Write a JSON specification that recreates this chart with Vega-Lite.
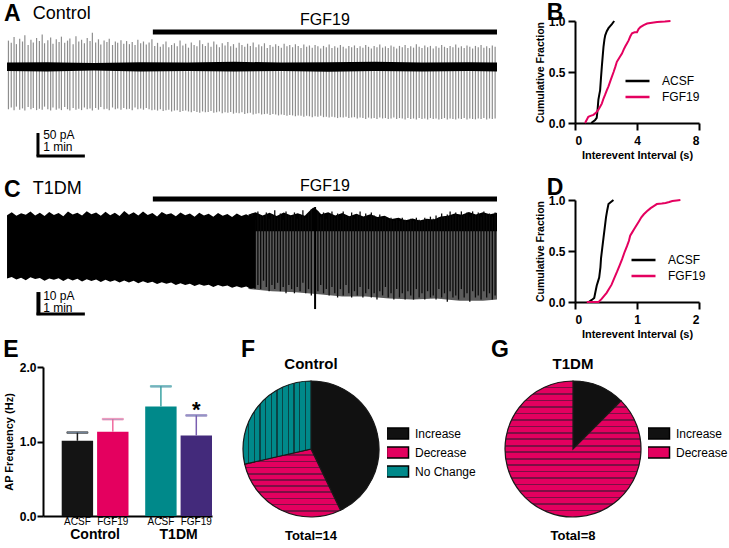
{
"$schema": "https://vega.github.io/schema/vega-lite/v6.json",
"padding": {"top": 2, "left": 0, "right": 0, "bottom": 0},
"background": "white",
"spacing": 0,
"resolve": {"scale": {"color": "independent", "stroke": "independent"}, "legend": {"color": "independent", "stroke": "independent"}},
"config": {
  "view": {"stroke": null},
  "font": "Liberation Sans",
  "title": {"font": "Liberation Sans", "color": "#000"},
  "text": {"font": "Liberation Sans", "color": "#000"},
  "axis": {"domainColor": "#000", "domainWidth": 2, "tickColor": "#000", "tickWidth": 2, "tickSize": 7, "labelFont": "Liberation Sans", "labelFontWeight": "bold", "labelFontSize": 12, "labelColor": "#000", "labelPadding": 3, "labelOverlap": false, "titleFont": "Liberation Sans", "titleFontWeight": "bold", "titleFontSize": 11, "titleColor": "#000", "grid": false},
  "legend": {"labelFont": "Liberation Sans", "labelColor": "#000"}
},
"vconcat": [
{
"spacing": 35,
"resolve": {"scale": {"color": "independent"}, "legend": {"color": "independent"}},
"hconcat": [
{
  "width": 497, "height": 155,
  "layer": [
    {"data": {"values": [
      {"t":0.18,"hi":60,"lo":-96},{"t":0.24,"hi":55,"lo":-92},{"t":0.30,"hi":68,"lo":-98},{"t":0.35,"hi":52,"lo":-90},{"t":0.42,"hi":64,"lo":-97},
      {"t":0.48,"hi":58,"lo":-94},{"t":0.53,"hi":72,"lo":-99},{"t":0.60,"hi":50,"lo":-91},{"t":0.66,"hi":62,"lo":-96},{"t":0.71,"hi":56,"lo":-93},
      {"t":0.78,"hi":66,"lo":-98},{"t":0.84,"hi":59,"lo":-95},{"t":0.90,"hi":74,"lo":-97},{"t":0.95,"hi":54,"lo":-90},{"t":1.02,"hi":61,"lo":-96},
      {"t":1.08,"hi":67,"lo":-99},{"t":1.13,"hi":53,"lo":-92},{"t":1.20,"hi":63,"lo":-97},{"t":1.26,"hi":57,"lo":-94},{"t":1.31,"hi":69,"lo":-98},
      {"t":1.38,"hi":55,"lo":-91},{"t":1.44,"hi":60,"lo":-96},{"t":1.49,"hi":65,"lo":-99},{"t":1.56,"hi":52,"lo":-93},{"t":1.62,"hi":70,"lo":-97},
      {"t":1.68,"hi":58,"lo":-95},{"t":1.74,"hi":62,"lo":-98},{"t":1.80,"hi":54,"lo":-92},{"t":1.86,"hi":66,"lo":-96},{"t":1.92,"hi":59,"lo":-94},
      {"t":1.97,"hi":78,"lo":-99},{"t":2.04,"hi":56,"lo":-93},{"t":2.10,"hi":63,"lo":-97},{"t":2.15,"hi":51,"lo":-91},{"t":2.22,"hi":60,"lo":-96},
      {"t":2.28,"hi":57,"lo":-95},{"t":2.33,"hi":64,"lo":-98},{"t":2.40,"hi":50,"lo":-92},{"t":2.46,"hi":58,"lo":-96},{"t":2.51,"hi":55,"lo":-94},
      {"t":2.58,"hi":61,"lo":-97},{"t":2.64,"hi":53,"lo":-93},{"t":2.70,"hi":59,"lo":-96},{"t":2.76,"hi":52,"lo":-95},{"t":2.82,"hi":57,"lo":-98},
      {"t":2.88,"hi":50,"lo":-92},{"t":2.94,"hi":62,"lo":-96},{"t":3.00,"hi":54,"lo":-94},{"t":3.06,"hi":58,"lo":-97},{"t":3.12,"hi":51,"lo":-93},
      {"t":3.18,"hi":56,"lo":-96},{"t":3.24,"hi":63,"lo":-98},
      {"t":3.30,"hi":48,"lo":-97},{"t":3.36,"hi":55,"lo":-99},{"t":3.42,"hi":46,"lo":-96},{"t":3.48,"hi":52,"lo":-100},{"t":3.54,"hi":58,"lo":-98},
      {"t":3.60,"hi":45,"lo":-97},{"t":3.66,"hi":50,"lo":-101},{"t":3.72,"hi":54,"lo":-99},{"t":3.78,"hi":47,"lo":-98},{"t":3.84,"hi":60,"lo":-102},
      {"t":3.90,"hi":49,"lo":-100},{"t":3.96,"hi":53,"lo":-99},{"t":4.02,"hi":44,"lo":-101},{"t":4.08,"hi":56,"lo":-103},{"t":4.14,"hi":50,"lo":-100},
      {"t":4.20,"hi":47,"lo":-102},{"t":4.26,"hi":61,"lo":-104},{"t":4.32,"hi":52,"lo":-101},{"t":4.38,"hi":48,"lo":-103},{"t":4.44,"hi":55,"lo":-102},
      {"t":4.50,"hi":46,"lo":-100},{"t":4.56,"hi":58,"lo":-104},{"t":4.62,"hi":51,"lo":-103},{"t":4.68,"hi":45,"lo":-101},{"t":4.74,"hi":54,"lo":-105},
      {"t":4.80,"hi":49,"lo":-103},{"t":4.86,"hi":57,"lo":-104},{"t":4.92,"hi":47,"lo":-102},{"t":4.98,"hi":52,"lo":-106},{"t":5.04,"hi":44,"lo":-104},
      {"t":5.10,"hi":55,"lo":-105},{"t":5.16,"hi":50,"lo":-103},{"t":5.22,"hi":46,"lo":-107},{"t":5.28,"hi":53,"lo":-105},{"t":5.34,"hi":48,"lo":-104},
      {"t":5.40,"hi":56,"lo":-108},{"t":5.46,"hi":45,"lo":-106},{"t":5.52,"hi":51,"lo":-105},{"t":5.58,"hi":47,"lo":-108},{"t":5.64,"hi":54,"lo":-107},
      {"t":5.70,"hi":43,"lo":-106},{"t":5.76,"hi":50,"lo":-109},{"t":5.82,"hi":46,"lo":-107},{"t":5.88,"hi":52,"lo":-108},{"t":5.94,"hi":48,"lo":-110},
      {"t":6.00,"hi":44,"lo":-108},{"t":6.06,"hi":53,"lo":-109},{"t":6.12,"hi":47,"lo":-111},{"t":6.18,"hi":50,"lo":-109},{"t":6.24,"hi":45,"lo":-110},
      {"t":6.30,"hi":52,"lo":-112},{"t":6.36,"hi":48,"lo":-110},{"t":6.42,"hi":43,"lo":-111},{"t":6.48,"hi":51,"lo":-113},{"t":6.54,"hi":46,"lo":-111},
      {"t":6.60,"hi":49,"lo":-112},{"t":6.66,"hi":44,"lo":-114},{"t":6.72,"hi":50,"lo":-112},{"t":6.78,"hi":47,"lo":-113},{"t":6.84,"hi":42,"lo":-111},
      {"t":6.90,"hi":48,"lo":-114},{"t":6.96,"hi":45,"lo":-113},{"t":7.02,"hi":51,"lo":-115},{"t":7.08,"hi":43,"lo":-113},{"t":7.14,"hi":47,"lo":-114},
      {"t":7.20,"hi":44,"lo":-116},{"t":7.26,"hi":50,"lo":-114},{"t":7.32,"hi":46,"lo":-115},{"t":7.38,"hi":42,"lo":-113},{"t":7.44,"hi":48,"lo":-116},
      {"t":7.50,"hi":45,"lo":-115},{"t":7.56,"hi":49,"lo":-114},{"t":7.62,"hi":43,"lo":-117},{"t":7.68,"hi":47,"lo":-115},{"t":7.74,"hi":44,"lo":-116},
      {"t":7.80,"hi":50,"lo":-118},{"t":7.86,"hi":46,"lo":-115},{"t":7.92,"hi":42,"lo":-117},{"t":7.98,"hi":48,"lo":-116},{"t":8.04,"hi":45,"lo":-118},
      {"t":8.10,"hi":51,"lo":-115},{"t":8.16,"hi":44,"lo":-117},{"t":8.22,"hi":47,"lo":-116},{"t":8.28,"hi":43,"lo":-118},{"t":8.34,"hi":49,"lo":-117},
      {"t":8.40,"hi":46,"lo":-115},{"t":8.46,"hi":42,"lo":-118},{"t":8.52,"hi":48,"lo":-116},{"t":8.58,"hi":45,"lo":-117},{"t":8.64,"hi":50,"lo":-119},
      {"t":8.70,"hi":43,"lo":-116},{"t":8.76,"hi":47,"lo":-118},{"t":8.82,"hi":44,"lo":-117},{"t":8.88,"hi":52,"lo":-119},{"t":8.94,"hi":46,"lo":-116},
      {"t":9.00,"hi":43,"lo":-118},{"t":9.06,"hi":49,"lo":-117},{"t":9.12,"hi":45,"lo":-119},{"t":9.18,"hi":48,"lo":-116},{"t":9.24,"hi":42,"lo":-118},
      {"t":9.30,"hi":47,"lo":-117},{"t":9.36,"hi":44,"lo":-119},{"t":9.42,"hi":50,"lo":-118},{"t":9.48,"hi":46,"lo":-116},{"t":9.54,"hi":43,"lo":-119},
      {"t":9.60,"hi":48,"lo":-117},{"t":9.66,"hi":45,"lo":-118},{"t":9.72,"hi":51,"lo":-119},{"t":9.78,"hi":44,"lo":-117},{"t":9.84,"hi":47,"lo":-118},
      {"t":9.90,"hi":43,"lo":-116},{"t":9.96,"hi":49,"lo":-119},{"t":10.02,"hi":46,"lo":-117},{"t":10.08,"hi":42,"lo":-118},{"t":10.14,"hi":48,"lo":-119},
      {"t":10.20,"hi":45,"lo":-117},{"t":10.26,"hi":50,"lo":-118},{"t":10.32,"hi":44,"lo":-116},{"t":10.38,"hi":47,"lo":-119},{"t":10.44,"hi":43,"lo":-117},
      {"t":10.50,"hi":49,"lo":-118},{"t":10.56,"hi":46,"lo":-117}
    ]},
     "mark": {"type": "rule", "color": "#8e8e8e", "strokeWidth": 1.2},
     "encoding": {
       "x": {"field": "t", "type": "quantitative", "scale": {"domain": [0, 10.6], "nice": false, "zero": false}, "axis": null},
       "y": {"field": "hi", "type": "quantitative", "scale": {"domain": [-247.7, 104.6], "nice": false, "zero": false}, "axis": null},
       "y2": {"field": "lo"}}},
    {"data": {"values": [
      {"t":0.15,"hi":10,"lo":-9},{"t":1.0,"hi":11,"lo":-10},{"t":2.0,"hi":9,"lo":-8},{"t":3.0,"hi":11,"lo":-10},{"t":4.0,"hi":10,"lo":-9},
      {"t":5.0,"hi":12,"lo":-10},{"t":6.0,"hi":10,"lo":-9},{"t":7.0,"hi":11,"lo":-11},{"t":8.0,"hi":12,"lo":-9},{"t":9.0,"hi":10,"lo":-10},
      {"t":10.0,"hi":11,"lo":-9},{"t":10.6,"hi":10,"lo":-10}]},
     "mark": {"type": "area", "color": "#000"},
     "encoding": {"x": {"field": "t", "type": "quantitative", "axis": null}, "y": {"field": "hi", "type": "quantitative", "axis": null}, "y2": {"field": "lo"}}},
    {"data": {"values": [{}]}, "mark": {"type": "rule", "color": "#000", "strokeWidth": 5},
     "encoding": {"x": {"datum": 3.26, "type": "quantitative", "axis": null}, "x2": {"datum": 10.6}, "y": {"datum": 79.5, "type": "quantitative", "axis": null}}},
    {"data": {"values": [{}]}, "mark": {"type": "rule", "color": "#000", "strokeWidth": 3},
     "encoding": {"x": {"datum": 0.81, "type": "quantitative", "axis": null}, "y": {"datum": -150, "type": "quantitative", "axis": null}, "y2": {"datum": -203}}},
    {"data": {"values": [{}]}, "mark": {"type": "rule", "color": "#000", "strokeWidth": 3},
     "encoding": {"x": {"datum": 0.78, "type": "quantitative", "axis": null}, "x2": {"datum": 1.81}, "y": {"datum": -202, "type": "quantitative", "axis": null}}},
    {"data": {"values": [{}]}, "mark": {"type": "text", "text": "A", "fontSize": 23, "fontWeight": "bold", "baseline": "top", "align": "center"},
     "encoding": {"x": {"datum": 0.26, "type": "quantitative", "axis": null}, "y": {"datum": 145, "type": "quantitative", "axis": null}}},
    {"data": {"values": [{}]}, "mark": {"type": "text", "text": "Control", "fontSize": 18, "baseline": "middle", "align": "left"},
     "encoding": {"x": {"datum": 0.70, "type": "quantitative", "axis": null}, "y": {"datum": 121, "type": "quantitative", "axis": null}}},
    {"data": {"values": [{}]}, "mark": {"type": "text", "text": "FGF19", "fontSize": 16, "baseline": "middle", "align": "center"},
     "encoding": {"x": {"datum": 6.93, "type": "quantitative", "axis": null}, "y": {"datum": 106, "type": "quantitative", "axis": null}}},
    {"data": {"values": [{}]}, "mark": {"type": "text", "text": "50 pA", "fontSize": 12, "baseline": "middle", "align": "left"},
     "encoding": {"x": {"datum": 0.92, "type": "quantitative", "axis": null}, "y": {"datum": -155, "type": "quantitative", "axis": null}}},
    {"data": {"values": [{}]}, "mark": {"type": "text", "text": "1 min", "fontSize": 12, "baseline": "middle", "align": "left"},
     "encoding": {"x": {"datum": 0.92, "type": "quantitative", "axis": null}, "y": {"datum": -182, "type": "quantitative", "axis": null}}}
  ]
},
{
  "width": 124, "height": 102,
  "layer": [
    {"data": {"values": [
      {"s":"ACSF","x":1.05,"y":0},{"s":"ACSF","x":1.3,"y":0.03},{"s":"ACSF","x":1.4,"y":0.05},{"s":"ACSF","x":1.45,"y":0.12},{"s":"ACSF","x":1.51,"y":0.23},
      {"s":"ACSF","x":1.57,"y":0.28},{"s":"ACSF","x":1.62,"y":0.32},{"s":"ACSF","x":1.68,"y":0.45},{"s":"ACSF","x":1.73,"y":0.55},{"s":"ACSF","x":1.79,"y":0.66},
      {"s":"ACSF","x":1.84,"y":0.75},{"s":"ACSF","x":1.9,"y":0.82},{"s":"ACSF","x":1.95,"y":0.86},{"s":"ACSF","x":2.05,"y":0.9},{"s":"ACSF","x":2.16,"y":0.93},
      {"s":"ACSF","x":2.27,"y":0.95},{"s":"ACSF","x":2.38,"y":0.97},{"s":"ACSF","x":2.53,"y":1.0},
      {"s":"FGF19","x":0.65,"y":0},{"s":"FGF19","x":0.86,"y":0.06},{"s":"FGF19","x":1.0,"y":0.07},{"s":"FGF19","x":1.19,"y":0.08},{"s":"FGF19","x":1.35,"y":0.1},
      {"s":"FGF19","x":1.51,"y":0.13},{"s":"FGF19","x":1.62,"y":0.16},{"s":"FGF19","x":1.73,"y":0.19},{"s":"FGF19","x":1.84,"y":0.24},{"s":"FGF19","x":1.95,"y":0.28},
      {"s":"FGF19","x":2.05,"y":0.32},{"s":"FGF19","x":2.16,"y":0.36},{"s":"FGF19","x":2.3,"y":0.42},{"s":"FGF19","x":2.49,"y":0.5},{"s":"FGF19","x":2.6,"y":0.55},
      {"s":"FGF19","x":2.7,"y":0.6},{"s":"FGF19","x":2.86,"y":0.64},{"s":"FGF19","x":3.03,"y":0.68},{"s":"FGF19","x":3.14,"y":0.72},{"s":"FGF19","x":3.24,"y":0.75},
      {"s":"FGF19","x":3.35,"y":0.78},{"s":"FGF19","x":3.46,"y":0.81},{"s":"FGF19","x":3.57,"y":0.85},{"s":"FGF19","x":3.68,"y":0.88},{"s":"FGF19","x":3.84,"y":0.89},
      {"s":"FGF19","x":4.0,"y":0.89},{"s":"FGF19","x":4.1,"y":0.92},{"s":"FGF19","x":4.22,"y":0.94},{"s":"FGF19","x":4.43,"y":0.96},{"s":"FGF19","x":4.65,"y":0.975},
      {"s":"FGF19","x":4.86,"y":0.98},{"s":"FGF19","x":5.3,"y":0.99},{"s":"FGF19","x":5.8,"y":0.995},{"s":"FGF19","x":6.16,"y":1.0}
    ]},
     "mark": {"type": "line", "strokeWidth": 2},
     "encoding": {
       "x": {"field": "x", "type": "quantitative", "scale": {"domain": [0, 8], "nice": false, "zero": false}, "axis": {"values": [0, 2, 4, 6, 8], "title": "Interevent  Interval (s)", "labelPadding": 5, "titlePadding": 3}},
       "y": {"field": "y", "type": "quantitative", "scale": {"domain": [0, 1], "nice": false}, "axis": {"values": [0, 0.5, 1], "format": ".1f", "title": "Cumulative Fraction", "titlePadding": 3, "titleFontSize": 10.5}},
       "color": {"field": "s", "type": "nominal", "scale": {"domain": ["ACSF", "FGF19"], "range": ["#000000", "#e4005f"]},
         "legend": {"orient": "none", "legendX": 49, "legendY": 52, "title": null, "symbolType": "stroke", "symbolStrokeWidth": 2.5, "symbolSize": 576, "labelFontSize": 12, "labelFontWeight": "normal", "labelOffset": 11, "clipHeight": 16, "rowPadding": 0, "padding": 0}}}},
    {"data": {"values": [{}]}, "mark": {"type": "text", "text": "B", "fontSize": 23, "fontWeight": "bold", "baseline": "top", "align": "center"},
     "encoding": {"x": {"datum": -1.29, "type": "quantitative"}, "y": {"datum": 1.186, "type": "quantitative"}}}
  ]
}
]
},
{
"spacing": 35,
"resolve": {"scale": {"color": "independent"}, "legend": {"color": "independent"}},
"hconcat": [
{
  "width": 497, "height": 131,
  "layer": [
    {"data": {"values": [
      {"t":5.3,"hi":-3,"lo":-31},{"t":5.8,"hi":-3,"lo":-32},{"t":6.3,"hi":-3,"lo":-32.5},{"t":6.8,"hi":-3,"lo":-33.5},{"t":7.3,"hi":-3,"lo":-34.5},
      {"t":7.8,"hi":-3,"lo":-34.5},{"t":8.3,"hi":-3,"lo":-35.5},{"t":8.8,"hi":-3,"lo":-36},{"t":9.3,"hi":-3,"lo":-35.5},{"t":9.8,"hi":-3,"lo":-36.5},
      {"t":10.3,"hi":-3,"lo":-36.5},{"t":10.6,"hi":-3,"lo":-36}]},
     "mark": {"type": "area", "color": "#5c5c5c"},
     "encoding": {
       "x": {"field": "t", "type": "quantitative", "scale": {"domain": [0, 10.6], "nice": false, "zero": false}, "axis": null},
       "y": {"field": "hi", "type": "quantitative", "scale": {"domain": [-50.95, 11.43], "nice": false, "zero": false}, "axis": null},
       "y2": {"field": "lo"}}},
    {"data": {"values": [
      {"t":5.30,"hi":4.5,"lo":-3.5},{"t":5.45,"hi":5.6,"lo":-3.5},{"t":5.60,"hi":4.0,"lo":-3.5},{"t":5.75,"hi":5.3,"lo":-3.5},{"t":5.90,"hi":3.8,"lo":-3.5},
      {"t":6.05,"hi":5.5,"lo":-3.5},{"t":6.20,"hi":4.2,"lo":-3.5},{"t":6.35,"hi":5.1,"lo":-3.5},{"t":6.50,"hi":3.9,"lo":-3.5},{"t":6.60,"hi":6.2,"lo":-3.5},
      {"t":6.68,"hi":7.8,"lo":-3.5},{"t":6.76,"hi":6.8,"lo":-3.5},{"t":6.85,"hi":4.6,"lo":-3.5},{"t":7.00,"hi":5.6,"lo":-3.5},{"t":7.15,"hi":4.0,"lo":-3.5},
      {"t":7.30,"hi":5.2,"lo":-3.5},{"t":7.45,"hi":3.7,"lo":-3.5},{"t":7.60,"hi":4.9,"lo":-3.5},{"t":7.75,"hi":3.6,"lo":-3.5},{"t":7.90,"hi":4.6,"lo":-3.5},
      {"t":8.05,"hi":3.3,"lo":-3.5},{"t":8.20,"hi":3.9,"lo":-3.5},{"t":8.35,"hi":2.4,"lo":-3.5},{"t":8.50,"hi":3.0,"lo":-3.5},{"t":8.65,"hi":1.8,"lo":-3.5},
      {"t":8.80,"hi":2.6,"lo":-3.5},{"t":8.95,"hi":1.7,"lo":-3.5},{"t":9.10,"hi":2.5,"lo":-3.5},{"t":9.25,"hi":2.2,"lo":-3.5},{"t":9.40,"hi":3.6,"lo":-3.5},
      {"t":9.55,"hi":3.9,"lo":-3.5},{"t":9.70,"hi":5.0,"lo":-3.5},{"t":9.85,"hi":4.4,"lo":-3.5},{"t":10.00,"hi":5.7,"lo":-3.5},{"t":10.15,"hi":4.5,"lo":-3.5},
      {"t":10.30,"hi":5.6,"lo":-3.5},{"t":10.45,"hi":4.6,"lo":-3.5},{"t":10.60,"hi":5.3,"lo":-3.5}]},
     "mark": {"type": "area", "color": "#000"},
     "encoding": {"x": {"field": "t", "type": "quantitative", "axis": null}, "y": {"field": "hi", "type": "quantitative", "axis": null}, "y2": {"field": "lo"}}},
    {"data": {"values": [
      {"t":5.32,"hi":3,"lo":-30},{"t":5.38,"hi":5,"lo":-28},{"t":5.44,"hi":2,"lo":-31},{"t":5.50,"hi":6,"lo":-29},{"t":5.56,"hi":4,"lo":-31},
      {"t":5.62,"hi":3.5,"lo":-27},{"t":5.68,"hi":5.5,"lo":-30},{"t":5.74,"hi":2.5,"lo":-32},{"t":5.80,"hi":4.5,"lo":-29},{"t":5.86,"hi":6.5,"lo":-31},
      {"t":5.92,"hi":3,"lo":-28},{"t":5.98,"hi":5,"lo":-32},{"t":6.04,"hi":2,"lo":-30},{"t":6.10,"hi":6,"lo":-33},{"t":6.16,"hi":4,"lo":-29},
      {"t":6.22,"hi":3.5,"lo":-31},{"t":6.28,"hi":5.5,"lo":-33},{"t":6.34,"hi":2.5,"lo":-30},{"t":6.40,"hi":4.5,"lo":-32},{"t":6.46,"hi":6.5,"lo":-28},
      {"t":6.52,"hi":3,"lo":-33},{"t":6.58,"hi":5,"lo":-31},{"t":6.64,"hi":7,"lo":-34},{"t":6.78,"hi":6,"lo":-32},{"t":6.84,"hi":3.5,"lo":-29},
      {"t":6.90,"hi":5.5,"lo":-33},{"t":6.96,"hi":2.5,"lo":-31},{"t":7.02,"hi":4.5,"lo":-34},{"t":7.08,"hi":6,"lo":-30},{"t":7.14,"hi":3,"lo":-33},
      {"t":7.20,"hi":5,"lo":-35},{"t":7.26,"hi":2,"lo":-31},{"t":7.32,"hi":6,"lo":-34},{"t":7.38,"hi":4,"lo":-29},{"t":7.44,"hi":3.5,"lo":-33},
      {"t":7.50,"hi":5.5,"lo":-35},{"t":7.56,"hi":2.5,"lo":-32},{"t":7.62,"hi":4.5,"lo":-34},{"t":7.68,"hi":6,"lo":-30},{"t":7.74,"hi":3,"lo":-35},
      {"t":7.80,"hi":5,"lo":-33},{"t":7.86,"hi":2,"lo":-31},{"t":7.92,"hi":5.5,"lo":-35},{"t":7.98,"hi":4,"lo":-33},{"t":8.04,"hi":3,"lo":-36},
      {"t":8.10,"hi":4.5,"lo":-32},{"t":8.16,"hi":2.5,"lo":-34},{"t":8.22,"hi":3.5,"lo":-30},{"t":8.28,"hi":2,"lo":-35},{"t":8.34,"hi":3,"lo":-33},
      {"t":8.40,"hi":1.5,"lo":-36},{"t":8.46,"hi":2.5,"lo":-31},{"t":8.52,"hi":1.5,"lo":-35},{"t":8.58,"hi":3,"lo":-33},{"t":8.64,"hi":2,"lo":-36},
      {"t":8.70,"hi":1,"lo":-32},{"t":8.76,"hi":2.5,"lo":-34},{"t":8.82,"hi":1.5,"lo":-36},{"t":8.88,"hi":3,"lo":-31},{"t":8.94,"hi":2,"lo":-35},
      {"t":9.00,"hi":1.5,"lo":-33},{"t":9.06,"hi":3,"lo":-36},{"t":9.12,"hi":2,"lo":-32},{"t":9.18,"hi":3.5,"lo":-35},{"t":9.24,"hi":2.5,"lo":-34},
      {"t":9.30,"hi":4,"lo":-36},{"t":9.36,"hi":3,"lo":-31},{"t":9.42,"hi":5,"lo":-35},{"t":9.48,"hi":3.5,"lo":-33},{"t":9.54,"hi":4.5,"lo":-37},
      {"t":9.60,"hi":6,"lo":-32},{"t":9.66,"hi":4,"lo":-35},{"t":9.72,"hi":5.5,"lo":-34},{"t":9.78,"hi":3.5,"lo":-36},{"t":9.84,"hi":6,"lo":-31},
      {"t":9.90,"hi":4.5,"lo":-35},{"t":9.96,"hi":5.5,"lo":-33},{"t":10.02,"hi":3.5,"lo":-37},{"t":10.08,"hi":6,"lo":-32},{"t":10.14,"hi":4,"lo":-35},
      {"t":10.20,"hi":5.5,"lo":-34},{"t":10.26,"hi":3.5,"lo":-36},{"t":10.32,"hi":6,"lo":-32},{"t":10.38,"hi":4.5,"lo":-35},{"t":10.44,"hi":5,"lo":-33},
      {"t":10.50,"hi":3.5,"lo":-36},{"t":10.56,"hi":5.5,"lo":-34}]},
     "mark": {"type": "rule", "color": "#0a0a0a", "strokeWidth": 1.3},
     "encoding": {"x": {"field": "t", "type": "quantitative", "axis": null}, "y": {"field": "hi", "type": "quantitative", "axis": null}, "y2": {"field": "lo"}}},
    {"data": {"values": [{"t":6.72,"hi":8.1,"lo":-40.5}]},
     "mark": {"type": "rule", "color": "#000", "strokeWidth": 2},
     "encoding": {"x": {"field": "t", "type": "quantitative", "axis": null}, "y": {"field": "hi", "type": "quantitative", "axis": null}, "y2": {"field": "lo"}}},
    {"data": {"values": [
      {"t":0.15,"hi":4.2,"lo":-26.0},{"t":0.25,"hi":5.6,"lo":-25.2},{"t":0.35,"hi":3.9,"lo":-26.4},{"t":0.45,"hi":5.1,"lo":-25.6},{"t":0.55,"hi":4.4,"lo":-26.8},
      {"t":0.65,"hi":6.0,"lo":-25.4},{"t":0.75,"hi":4.0,"lo":-26.2},{"t":0.85,"hi":5.3,"lo":-25.7},{"t":0.95,"hi":3.8,"lo":-27.0},{"t":1.05,"hi":5.7,"lo":-25.9},
      {"t":1.15,"hi":4.3,"lo":-26.6},{"t":1.25,"hi":5.2,"lo":-25.8},{"t":1.35,"hi":3.7,"lo":-27.1},{"t":1.45,"hi":5.9,"lo":-26.0},{"t":1.55,"hi":4.5,"lo":-26.9},
      {"t":1.65,"hi":5.4,"lo":-26.1},{"t":1.75,"hi":4.1,"lo":-27.4},{"t":1.85,"hi":6.1,"lo":-26.3},{"t":1.95,"hi":4.6,"lo":-27.2},{"t":2.05,"hi":5.5,"lo":-26.4},
      {"t":2.15,"hi":3.9,"lo":-27.6},{"t":2.25,"hi":5.8,"lo":-26.6},{"t":2.35,"hi":4.2,"lo":-27.5},{"t":2.45,"hi":5.3,"lo":-26.8},{"t":2.55,"hi":3.8,"lo":-27.9},
      {"t":2.65,"hi":6.2,"lo":-26.9},{"t":2.75,"hi":4.4,"lo":-27.8},{"t":2.85,"hi":5.6,"lo":-27.0},{"t":2.95,"hi":4.0,"lo":-28.2},{"t":3.05,"hi":5.9,"lo":-27.3},
      {"t":3.15,"hi":4.3,"lo":-28.1},{"t":3.25,"hi":5.2,"lo":-27.5},{"t":3.35,"hi":3.6,"lo":-28.6},{"t":3.45,"hi":5.7,"lo":-27.7},{"t":3.55,"hi":4.5,"lo":-28.5},
      {"t":3.65,"hi":5.1,"lo":-27.9},{"t":3.75,"hi":3.7,"lo":-29.0},{"t":3.85,"hi":5.5,"lo":-28.2},{"t":3.95,"hi":4.2,"lo":-29.1},{"t":4.05,"hi":5.0,"lo":-28.4},
      {"t":4.15,"hi":3.5,"lo":-29.5},{"t":4.25,"hi":5.4,"lo":-28.7},{"t":4.35,"hi":4.1,"lo":-29.4},{"t":4.45,"hi":4.9,"lo":-28.9},{"t":4.55,"hi":3.4,"lo":-30.0},
      {"t":4.65,"hi":5.2,"lo":-29.1},{"t":4.75,"hi":3.9,"lo":-29.8},{"t":4.85,"hi":4.8,"lo":-29.3},{"t":4.95,"hi":3.3,"lo":-30.4},{"t":5.05,"hi":5.0,"lo":-29.6},
      {"t":5.15,"hi":3.8,"lo":-30.3},{"t":5.25,"hi":4.6,"lo":-29.8},{"t":5.35,"hi":3.5,"lo":-30.8},{"t":5.45,"hi":4.2,"lo":-30.4}]},
     "mark": {"type": "area", "color": "#000"},
     "encoding": {"x": {"field": "t", "type": "quantitative", "axis": null}, "y": {"field": "hi", "type": "quantitative", "axis": null}, "y2": {"field": "lo"}}},
    {"data": {"values": [{}]}, "mark": {"type": "rule", "color": "#000", "strokeWidth": 5},
     "encoding": {"x": {"datum": 3.26, "type": "quantitative", "axis": null}, "x2": {"datum": 10.6}, "y": {"datum": 11.9, "type": "quantitative", "axis": null}}},
    {"data": {"values": [{}]}, "mark": {"type": "rule", "color": "#000", "strokeWidth": 4},
     "encoding": {"x": {"datum": 0.82, "type": "quantitative", "axis": null}, "y": {"datum": -32.4, "type": "quantitative", "axis": null}, "y2": {"datum": -43.4}}},
    {"data": {"values": [{}]}, "mark": {"type": "rule", "color": "#000", "strokeWidth": 3},
     "encoding": {"x": {"datum": 0.78, "type": "quantitative", "axis": null}, "x2": {"datum": 1.81}, "y": {"datum": -42.9, "type": "quantitative", "axis": null}}},
    {"data": {"values": [{}]}, "mark": {"type": "text", "text": "C", "fontSize": 23, "fontWeight": "bold", "baseline": "top", "align": "center"},
     "encoding": {"x": {"datum": 0.26, "type": "quantitative", "axis": null}, "y": {"datum": 21.4, "type": "quantitative", "axis": null}}},
    {"data": {"values": [{}]}, "mark": {"type": "text", "text": "T1DM", "fontSize": 18, "baseline": "middle", "align": "left"},
     "encoding": {"x": {"datum": 0.70, "type": "quantitative", "axis": null}, "y": {"datum": 16.7, "type": "quantitative", "axis": null}}},
    {"data": {"values": [{}]}, "mark": {"type": "text", "text": "FGF19", "fontSize": 16, "baseline": "middle", "align": "center"},
     "encoding": {"x": {"datum": 6.93, "type": "quantitative", "axis": null}, "y": {"datum": 18.1, "type": "quantitative", "axis": null}}},
    {"data": {"values": [{}]}, "mark": {"type": "text", "text": "10 pA", "fontSize": 12, "baseline": "middle", "align": "left"},
     "encoding": {"x": {"datum": 0.92, "type": "quantitative", "axis": null}, "y": {"datum": -34.3, "type": "quantitative", "axis": null}}},
    {"data": {"values": [{}]}, "mark": {"type": "text", "text": "1 min", "fontSize": 12, "baseline": "middle", "align": "left"},
     "encoding": {"x": {"datum": 0.92, "type": "quantitative", "axis": null}, "y": {"datum": -39.8, "type": "quantitative", "axis": null}}}
  ]
},
{
  "width": 124, "height": 102,
  "layer": [
    {"data": {"values": [
      {"s":"ACSF","x":0.22,"y":0},{"s":"ACSF","x":0.27,"y":0.02},{"s":"ACSF","x":0.31,"y":0.04},{"s":"ACSF","x":0.33,"y":0.1},{"s":"ACSF","x":0.35,"y":0.16},
      {"s":"ACSF","x":0.37,"y":0.2},{"s":"ACSF","x":0.39,"y":0.24},{"s":"ACSF","x":0.41,"y":0.34},{"s":"ACSF","x":0.42,"y":0.43},{"s":"ACSF","x":0.44,"y":0.53},
      {"s":"ACSF","x":0.46,"y":0.63},{"s":"ACSF","x":0.48,"y":0.73},{"s":"ACSF","x":0.5,"y":0.83},{"s":"ACSF","x":0.52,"y":0.9},{"s":"ACSF","x":0.54,"y":0.96},
      {"s":"ACSF","x":0.58,"y":0.98},{"s":"ACSF","x":0.62,"y":1.0},
      {"s":"FGF19","x":0.19,"y":0},{"s":"FGF19","x":0.38,"y":0},{"s":"FGF19","x":0.43,"y":0.03},{"s":"FGF19","x":0.47,"y":0.06},{"s":"FGF19","x":0.51,"y":0.09},
      {"s":"FGF19","x":0.55,"y":0.13},{"s":"FGF19","x":0.59,"y":0.17},{"s":"FGF19","x":0.63,"y":0.23},{"s":"FGF19","x":0.68,"y":0.3},{"s":"FGF19","x":0.72,"y":0.36},
      {"s":"FGF19","x":0.76,"y":0.42},{"s":"FGF19","x":0.8,"y":0.49},{"s":"FGF19","x":0.84,"y":0.55},{"s":"FGF19","x":0.87,"y":0.6},{"s":"FGF19","x":0.89,"y":0.65},
      {"s":"FGF19","x":0.92,"y":0.68},{"s":"FGF19","x":0.95,"y":0.71},{"s":"FGF19","x":0.99,"y":0.75},{"s":"FGF19","x":1.03,"y":0.79},{"s":"FGF19","x":1.07,"y":0.83},
      {"s":"FGF19","x":1.11,"y":0.86},{"s":"FGF19","x":1.16,"y":0.89},{"s":"FGF19","x":1.22,"y":0.92},{"s":"FGF19","x":1.27,"y":0.94},{"s":"FGF19","x":1.32,"y":0.96},
      {"s":"FGF19","x":1.4,"y":0.965},{"s":"FGF19","x":1.46,"y":0.97},{"s":"FGF19","x":1.52,"y":0.98},{"s":"FGF19","x":1.57,"y":0.99},{"s":"FGF19","x":1.64,"y":0.995},
      {"s":"FGF19","x":1.7,"y":1.0}
    ]},
     "mark": {"type": "line", "strokeWidth": 2},
     "encoding": {
       "x": {"field": "x", "type": "quantitative", "scale": {"domain": [0, 2], "nice": false, "zero": false}, "axis": {"values": [0, 0.5, 1, 1.5, 2], "format": "~g", "title": "Interevent  Interval (s)", "labelPadding": 5, "titlePadding": 3}},
       "y": {"field": "y", "type": "quantitative", "scale": {"domain": [0, 1], "nice": false}, "axis": {"values": [0, 0.5, 1], "format": ".1f", "title": "Cumulative Fraction", "titlePadding": 3, "titleFontSize": 10.5}},
       "color": {"field": "s", "type": "nominal", "scale": {"domain": ["ACSF", "FGF19"], "range": ["#000000", "#e4005f"]},
         "legend": {"orient": "none", "legendX": 55, "legendY": 52, "title": null, "symbolType": "stroke", "symbolStrokeWidth": 2.5, "symbolSize": 576, "labelFontSize": 12, "labelFontWeight": "normal", "labelOffset": 11, "clipHeight": 16, "rowPadding": 0, "padding": 0}}}},
    {"data": {"values": [{}]}, "mark": {"type": "text", "text": "D", "fontSize": 23, "fontWeight": "bold", "baseline": "top", "align": "center"},
     "encoding": {"x": {"datum": -0.32, "type": "quantitative"}, "y": {"datum": 1.2255, "type": "quantitative"}}}
  ]
}
]
},
{
"spacing": 0,
"resolve": {"scale": {"color": "independent", "stroke": "independent"}, "legend": {"color": "independent"}},
"hconcat": [
{
  "width": 3, "height": 5,
  "data": {"values": [{}]},
  "mark": {"type": "point", "opacity": 0, "size": 1},
  "encoding": {}
},
{
  "width": 169, "height": 149,
  "title": {"text": "E", "anchor": "start", "frame": "bounds", "fontSize": 23, "fontWeight": "bold", "baseline": "alphabetic", "offset": -19},
  "data": {"values": [
    {"group": "Control", "treat": "ACSF", "id": "c1", "v": 1.01, "top": 1.12, "sig": ""},
    {"group": "Control", "treat": "FGF19", "id": "c2", "v": 1.13, "top": 1.30, "sig": ""},
    {"group": "T1DM", "treat": "ACSF", "id": "t1", "v": 1.47, "top": 1.74, "sig": ""},
    {"group": "T1DM", "treat": "FGF19", "id": "t2", "v": 1.08, "top": 1.35, "sig": "*"}
  ]},
  "encoding": {
    "x": {"field": "group", "type": "nominal", "sort": null, "scale": {"paddingInner": 0.2, "paddingOuter": 0.112, "align": 1},
      "axis": {"title": null, "ticks": false, "tickSize": 0, "labelPadding": 11, "labelFontSize": 14, "labelAngle": 0}},
    "xOffset": {"field": "treat", "type": "nominal", "sort": null, "scale": {"paddingInner": 0.113, "paddingOuter": 0}}
  },
  "layer": [
    {"mark": {"type": "bar"},
     "encoding": {
       "y": {"field": "v", "type": "quantitative", "scale": {"domain": [0, 2], "nice": false}, "axis": {"values": [0, 0.5, 1, 1.5, 2], "format": ".1f", "title": "AP Frequency (Hz)", "tickSize": 6, "labelPadding": 1, "titlePadding": 5}},
       "color": {"field": "id", "type": "nominal", "scale": {"domain": ["c1", "c2", "t1", "t2"], "range": ["#141414", "#e4005f", "#00898a", "#432a7b"]}, "legend": null}}},
    {"mark": {"type": "rule", "strokeWidth": 1.5},
     "encoding": {
       "y": {"field": "v", "type": "quantitative"}, "y2": {"field": "top"},
       "stroke": {"field": "id", "type": "nominal", "scale": {"domain": ["c1", "c2", "t1", "t2"], "range": ["#1a1a1a", "#f06a9e", "#3aa3a3", "#7a5eb0"]}, "legend": null}}},
    {"mark": {"type": "tick", "size": 21, "thickness": 1.5},
     "encoding": {
       "y": {"field": "top", "type": "quantitative"},
       "stroke": {"field": "id", "type": "nominal", "legend": null}}},
    {"mark": {"type": "rule", "strokeWidth": 2, "color": "#000"},
     "encoding": {"y": {"datum": 0, "type": "quantitative"}, "y2": {"datum": -0.04}}},
    {"mark": {"type": "text", "fontSize": 10, "baseline": "middle", "dy": 6},
     "encoding": {"y": {"datum": 0, "type": "quantitative"}, "text": {"field": "treat"}}},
    {"mark": {"type": "text", "fontSize": 22, "fontWeight": "bold", "baseline": "alphabetic", "dy": 2},
     "encoding": {"y": {"field": "top", "type": "quantitative"}, "text": {"field": "sig"}}}
  ]
},
{
  "width": 198, "height": 164,
  "title": {"text": "F", "anchor": "start", "frame": "group", "fontSize": 23, "fontWeight": "bold", "baseline": "alphabetic", "offset": -23, "dx": 29},
  "layer": [
    {"data": {"values": [{"cat": "Increase", "n": 6, "ord": 1}, {"cat": "Decrease", "n": 4, "ord": 2}, {"cat": "No Change", "n": 4, "ord": 3}]},
     "mark": {"type": "arc", "outerRadius": 68},
     "encoding": {
       "theta": {"field": "n", "type": "quantitative"},
       "order": {"field": "ord", "type": "quantitative"},
       "color": {"field": "cat", "type": "nominal", "scale": {"domain": ["Increase", "Decrease", "No Change"], "range": ["#111111", "#e4005f", "#00898a"]},
         "legend": {"orient": "none", "legendX": 175, "legendY": 57, "title": null, "symbolType": "M-1.16,-0.58H1.16V0.58H-1.16Z", "symbolSize": 361, "symbolStrokeColor": "#000", "symbolStrokeWidth": 1.5, "labelFontSize": 12, "labelFontWeight": "normal", "labelOffset": 7, "clipHeight": 19, "rowPadding": 0, "padding": 0}}}},
    {"data": {"values": [{"cat": "Increase", "n": 6, "ord": 1}, {"cat": "Decrease", "n": 4, "ord": 2}, {"cat": "No Change", "n": 4, "ord": 3}]},
     "mark": {"type": "arc", "outerRadius": 68, "stroke": "#1a1a1a", "strokeWidth": 1.2},
     "encoding": {
       "theta": {"field": "n", "type": "quantitative"},
       "order": {"field": "ord", "type": "quantitative"},
       "fill": {"condition": [
         {"test": "datum.cat === 'Decrease'", "value": {"gradient": "linear", "x1": 0, "y1": 0, "x2": 0, "y2": 1, "stops": [
           {"offset": 0, "color": "#e4005f"},
           {"offset": 0.0789, "color": "#e4005f"}, {"offset": 0.0789, "color": "#7d0f44"}, {"offset": 0.1029, "color": "#7d0f44"}, {"offset": 0.1029, "color": "#e4005f"},
           {"offset": 0.1698, "color": "#e4005f"}, {"offset": 0.1698, "color": "#7d0f44"}, {"offset": 0.1938, "color": "#7d0f44"}, {"offset": 0.1938, "color": "#e4005f"},
           {"offset": 0.2607, "color": "#e4005f"}, {"offset": 0.2607, "color": "#7d0f44"}, {"offset": 0.2847, "color": "#7d0f44"}, {"offset": 0.2847, "color": "#e4005f"},
           {"offset": 0.3516, "color": "#e4005f"}, {"offset": 0.3516, "color": "#7d0f44"}, {"offset": 0.3756, "color": "#7d0f44"}, {"offset": 0.3756, "color": "#e4005f"},
           {"offset": 0.4425, "color": "#e4005f"}, {"offset": 0.4425, "color": "#7d0f44"}, {"offset": 0.4665, "color": "#7d0f44"}, {"offset": 0.4665, "color": "#e4005f"},
           {"offset": 0.5335, "color": "#e4005f"}, {"offset": 0.5335, "color": "#7d0f44"}, {"offset": 0.5575, "color": "#7d0f44"}, {"offset": 0.5575, "color": "#e4005f"},
           {"offset": 0.6244, "color": "#e4005f"}, {"offset": 0.6244, "color": "#7d0f44"}, {"offset": 0.6484, "color": "#7d0f44"}, {"offset": 0.6484, "color": "#e4005f"},
           {"offset": 0.7153, "color": "#e4005f"}, {"offset": 0.7153, "color": "#7d0f44"}, {"offset": 0.7393, "color": "#7d0f44"}, {"offset": 0.7393, "color": "#e4005f"},
           {"offset": 0.8062, "color": "#e4005f"}, {"offset": 0.8062, "color": "#7d0f44"}, {"offset": 0.8302, "color": "#7d0f44"}, {"offset": 0.8302, "color": "#e4005f"},
           {"offset": 0.8971, "color": "#e4005f"}, {"offset": 0.8971, "color": "#7d0f44"}, {"offset": 0.9211, "color": "#7d0f44"}, {"offset": 0.9211, "color": "#e4005f"},
           {"offset": 1, "color": "#e4005f"}]}},
         {"test": "datum.cat === 'No Change'", "value": {"gradient": "linear", "x1": 0, "y1": 0, "x2": 1, "y2": 0, "stops": [
           {"offset": 0, "color": "#00898a"},
           {"offset": 0.0713, "color": "#00898a"}, {"offset": 0.0713, "color": "#0a4446"}, {"offset": 0.0953, "color": "#0a4446"}, {"offset": 0.0953, "color": "#00898a"},
           {"offset": 0.1547, "color": "#00898a"}, {"offset": 0.1547, "color": "#0a4446"}, {"offset": 0.1787, "color": "#0a4446"}, {"offset": 0.1787, "color": "#00898a"},
           {"offset": 0.238, "color": "#00898a"}, {"offset": 0.238, "color": "#0a4446"}, {"offset": 0.262, "color": "#0a4446"}, {"offset": 0.262, "color": "#00898a"},
           {"offset": 0.3213, "color": "#00898a"}, {"offset": 0.3213, "color": "#0a4446"}, {"offset": 0.3453, "color": "#0a4446"}, {"offset": 0.3453, "color": "#00898a"},
           {"offset": 0.4047, "color": "#00898a"}, {"offset": 0.4047, "color": "#0a4446"}, {"offset": 0.4287, "color": "#0a4446"}, {"offset": 0.4287, "color": "#00898a"},
           {"offset": 0.488, "color": "#00898a"}, {"offset": 0.488, "color": "#0a4446"}, {"offset": 0.512, "color": "#0a4446"}, {"offset": 0.512, "color": "#00898a"},
           {"offset": 0.5713, "color": "#00898a"}, {"offset": 0.5713, "color": "#0a4446"}, {"offset": 0.5953, "color": "#0a4446"}, {"offset": 0.5953, "color": "#00898a"},
           {"offset": 0.6547, "color": "#00898a"}, {"offset": 0.6547, "color": "#0a4446"}, {"offset": 0.6787, "color": "#0a4446"}, {"offset": 0.6787, "color": "#00898a"},
           {"offset": 0.738, "color": "#00898a"}, {"offset": 0.738, "color": "#0a4446"}, {"offset": 0.762, "color": "#0a4446"}, {"offset": 0.762, "color": "#00898a"},
           {"offset": 0.8213, "color": "#00898a"}, {"offset": 0.8213, "color": "#0a4446"}, {"offset": 0.8453, "color": "#0a4446"}, {"offset": 0.8453, "color": "#00898a"},
           {"offset": 0.9047, "color": "#00898a"}, {"offset": 0.9047, "color": "#0a4446"}, {"offset": 0.9287, "color": "#0a4446"}, {"offset": 0.9287, "color": "#00898a"},
           {"offset": 1, "color": "#00898a"}]}}
       ], "value": "#111111"}}},
    {"data": {"values": [{}]}, "mark": {"type": "text", "text": "Control", "fontSize": 15, "fontWeight": "bold", "dy": -85, "baseline": "middle"}, "encoding": {}},
    {"data": {"values": [{}]}, "mark": {"type": "text", "text": "Total=14", "fontSize": 13, "fontWeight": "bold", "dy": 87, "baseline": "middle"}, "encoding": {}}
  ]
},
{
  "width": 194, "height": 164,
  "title": {"text": "G", "anchor": "start", "frame": "group", "fontSize": 23, "fontWeight": "bold", "baseline": "alphabetic", "offset": -23, "dx": 15},
  "layer": [
    {"data": {"values": [{"cat": "Increase", "n": 1, "ord": 1}, {"cat": "Decrease", "n": 7, "ord": 2}]},
     "mark": {"type": "arc", "outerRadius": 68},
     "encoding": {
       "theta": {"field": "n", "type": "quantitative"},
       "order": {"field": "ord", "type": "quantitative"},
       "color": {"field": "cat", "type": "nominal", "scale": {"domain": ["Increase", "Decrease"], "range": ["#111111", "#e4005f"]},
         "legend": {"orient": "none", "legendX": 172, "legendY": 57, "title": null, "symbolType": "M-1.16,-0.58H1.16V0.58H-1.16Z", "symbolSize": 361, "symbolStrokeColor": "#000", "symbolStrokeWidth": 1.5, "labelFontSize": 12, "labelFontWeight": "normal", "labelOffset": 7, "clipHeight": 19, "rowPadding": 0, "padding": 0}}}},
    {"data": {"values": [{"cat": "Increase", "n": 1, "ord": 1}, {"cat": "Decrease", "n": 7, "ord": 2}]},
     "mark": {"type": "arc", "outerRadius": 68, "stroke": "#1a1a1a", "strokeWidth": 1.2},
     "encoding": {
       "theta": {"field": "n", "type": "quantitative"},
       "order": {"field": "ord", "type": "quantitative"},
       "fill": {"condition": [
         {"test": "datum.cat === 'Decrease'", "value": {"gradient": "linear", "x1": 0, "y1": 0, "x2": 0, "y2": 1, "stops": [
           {"offset": 0, "color": "#e4005f"},
           {"offset": 0.0416, "color": "#e4005f"}, {"offset": 0.0416, "color": "#7d0f44"}, {"offset": 0.0536, "color": "#7d0f44"}, {"offset": 0.0536, "color": "#e4005f"},
           {"offset": 0.0892, "color": "#e4005f"}, {"offset": 0.0892, "color": "#7d0f44"}, {"offset": 0.1012, "color": "#7d0f44"}, {"offset": 0.1012, "color": "#e4005f"},
           {"offset": 0.1369, "color": "#e4005f"}, {"offset": 0.1369, "color": "#7d0f44"}, {"offset": 0.1489, "color": "#7d0f44"}, {"offset": 0.1489, "color": "#e4005f"},
           {"offset": 0.1845, "color": "#e4005f"}, {"offset": 0.1845, "color": "#7d0f44"}, {"offset": 0.1965, "color": "#7d0f44"}, {"offset": 0.1965, "color": "#e4005f"},
           {"offset": 0.2321, "color": "#e4005f"}, {"offset": 0.2321, "color": "#7d0f44"}, {"offset": 0.2441, "color": "#7d0f44"}, {"offset": 0.2441, "color": "#e4005f"},
           {"offset": 0.2797, "color": "#e4005f"}, {"offset": 0.2797, "color": "#7d0f44"}, {"offset": 0.2917, "color": "#7d0f44"}, {"offset": 0.2917, "color": "#e4005f"},
           {"offset": 0.3273, "color": "#e4005f"}, {"offset": 0.3273, "color": "#7d0f44"}, {"offset": 0.3393, "color": "#7d0f44"}, {"offset": 0.3393, "color": "#e4005f"},
           {"offset": 0.375, "color": "#e4005f"}, {"offset": 0.375, "color": "#7d0f44"}, {"offset": 0.387, "color": "#7d0f44"}, {"offset": 0.387, "color": "#e4005f"},
           {"offset": 0.4226, "color": "#e4005f"}, {"offset": 0.4226, "color": "#7d0f44"}, {"offset": 0.4346, "color": "#7d0f44"}, {"offset": 0.4346, "color": "#e4005f"},
           {"offset": 0.4702, "color": "#e4005f"}, {"offset": 0.4702, "color": "#7d0f44"}, {"offset": 0.4822, "color": "#7d0f44"}, {"offset": 0.4822, "color": "#e4005f"},
           {"offset": 0.5178, "color": "#e4005f"}, {"offset": 0.5178, "color": "#7d0f44"}, {"offset": 0.5298, "color": "#7d0f44"}, {"offset": 0.5298, "color": "#e4005f"},
           {"offset": 0.5654, "color": "#e4005f"}, {"offset": 0.5654, "color": "#7d0f44"}, {"offset": 0.5774, "color": "#7d0f44"}, {"offset": 0.5774, "color": "#e4005f"},
           {"offset": 0.613, "color": "#e4005f"}, {"offset": 0.613, "color": "#7d0f44"}, {"offset": 0.625, "color": "#7d0f44"}, {"offset": 0.625, "color": "#e4005f"},
           {"offset": 0.6607, "color": "#e4005f"}, {"offset": 0.6607, "color": "#7d0f44"}, {"offset": 0.6727, "color": "#7d0f44"}, {"offset": 0.6727, "color": "#e4005f"},
           {"offset": 0.7083, "color": "#e4005f"}, {"offset": 0.7083, "color": "#7d0f44"}, {"offset": 0.7203, "color": "#7d0f44"}, {"offset": 0.7203, "color": "#e4005f"},
           {"offset": 0.7559, "color": "#e4005f"}, {"offset": 0.7559, "color": "#7d0f44"}, {"offset": 0.7679, "color": "#7d0f44"}, {"offset": 0.7679, "color": "#e4005f"},
           {"offset": 0.8035, "color": "#e4005f"}, {"offset": 0.8035, "color": "#7d0f44"}, {"offset": 0.8155, "color": "#7d0f44"}, {"offset": 0.8155, "color": "#e4005f"},
           {"offset": 0.8511, "color": "#e4005f"}, {"offset": 0.8511, "color": "#7d0f44"}, {"offset": 0.8631, "color": "#7d0f44"}, {"offset": 0.8631, "color": "#e4005f"},
           {"offset": 0.8988, "color": "#e4005f"}, {"offset": 0.8988, "color": "#7d0f44"}, {"offset": 0.9108, "color": "#7d0f44"}, {"offset": 0.9108, "color": "#e4005f"},
           {"offset": 0.9464, "color": "#e4005f"}, {"offset": 0.9464, "color": "#7d0f44"}, {"offset": 0.9584, "color": "#7d0f44"}, {"offset": 0.9584, "color": "#e4005f"},
           {"offset": 1, "color": "#e4005f"}]}}
       ], "value": "#111111"}}},
    {"data": {"values": [{}]}, "mark": {"type": "text", "text": "T1DM", "fontSize": 15, "fontWeight": "bold", "dy": -85, "baseline": "middle"}, "encoding": {}},
    {"data": {"values": [{}]}, "mark": {"type": "text", "text": "Total=8", "fontSize": 13, "fontWeight": "bold", "dy": 87, "baseline": "middle"}, "encoding": {}}
  ]
}
]
}
]
}
